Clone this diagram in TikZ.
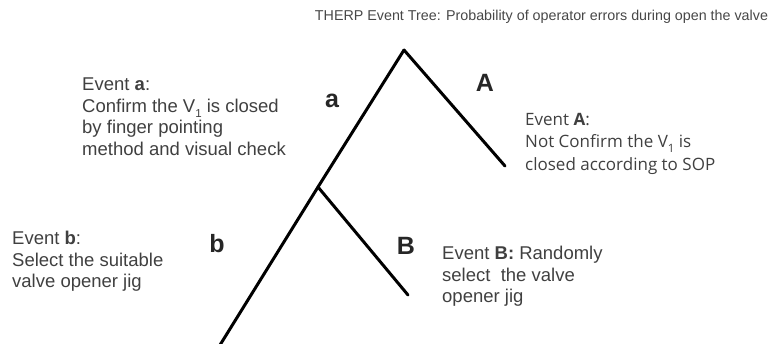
\documentclass[tikz,border=0pt]{standalone}
\usepackage{fontspec}
\setmainfont{Liberation Sans}
\newfontfamily\segoe{Open Sans}
\begin{document}
\begin{tikzpicture}[x=1pt,y=-1pt,
  branch/.style={line width=3pt,line cap=round},
  evtext/.style={anchor=north west,inner sep=0pt,align=left,text=black!75,
    font=\fontsize{18.5}{21.5}\selectfont},
  evtextA/.style={anchor=north west,inner sep=0pt,align=left,text=black!75,
    font=\segoe\fontsize{17}{22.5}\selectfont},
  letter/.style={inner sep=0pt,text=black!85,font=\bfseries\fontsize{25}{25}\selectfont}]
\newcommand{\sbone}{\raisebox{-0.3em}{\fontsize{11.5}{12}\selectfont 1}}
\useasboundingbox (0,0) rectangle (770,343);
% title
\node[inner sep=0pt,text=black!72,font=\fontsize{14.3}{16}\selectfont] (title) at (541.5,17) {THERP Event Tree: Probability of operator errors during open the valve};
% tree points
\coordinate (top) at (404,50);
\coordinate (endA) at (505,166);
\coordinate (nb) at (318,187);
\coordinate (endB) at (408,295);
\coordinate (endb) at (220,345);
\draw[branch] (top) -- (nb) -- (endb);
\draw[branch] (top) -- (endA);
\draw[branch] (nb) -- (endB);
% branch letters
\node[letter] (la) at (332,101) {a};
\node[letter] (lA) at (485,83) {A};
\node[letter] (lb) at (217,244) {b};
\node[letter] (lB) at (406,246) {B};
% event descriptions
\node[evtext] (ea) at (82,78) {Event \textbf{a}:\\Confirm the V\sbone\ is closed\\by finger pointing\\method and visual check};
\node[evtextA] (eA) at (525,113) {Event \textbf{A}:\\Not Confirm the V\sbone\ is\\closed according to SOP};
\node[evtext] (eb) at (12,231) {Event \textbf{b}:\\Select the suitable\\valve opener jig};
\node[evtext] (eB) at (442,246) {Event \textbf{B:} Randomly\\select\ \ the valve\\opener jig};
\end{tikzpicture}
\end{document}
